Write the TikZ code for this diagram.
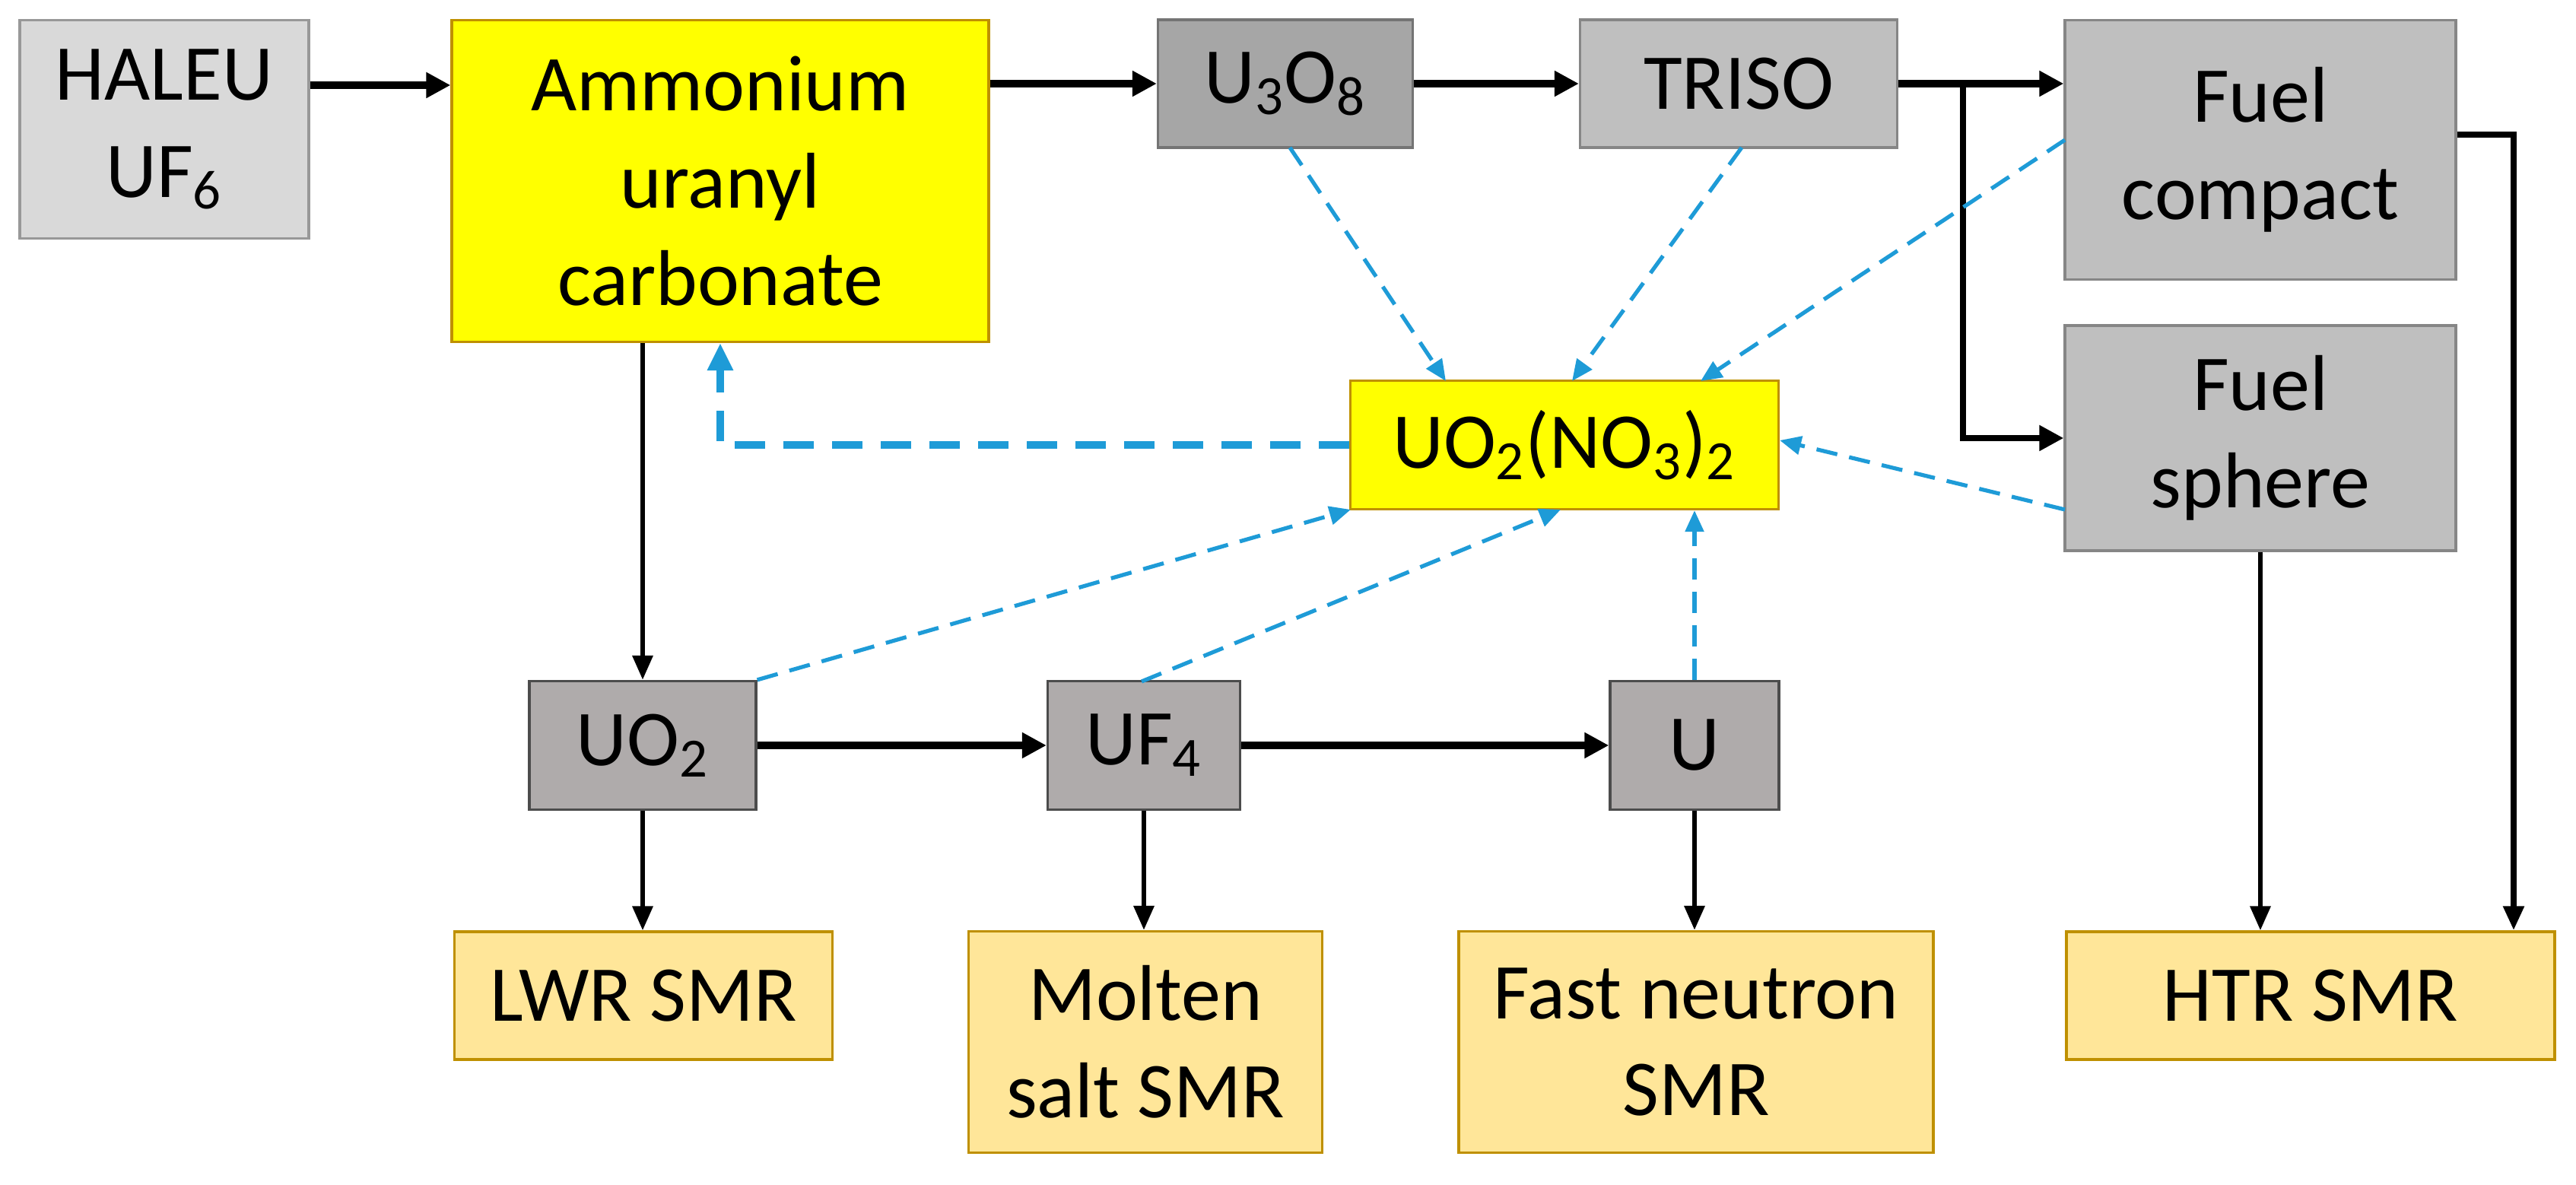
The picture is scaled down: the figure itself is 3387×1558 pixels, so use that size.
\documentclass[tikz,border=0pt]{standalone}
\usepackage{fontspec}
\setmainfont{Carlito}
\usetikzlibrary{arrows.meta}
\definecolor{lg}{HTML}{D9D9D9}
\definecolor{mg}{HTML}{BFBFBF}
\definecolor{dg}{HTML}{A6A6A6}
\definecolor{tg}{HTML}{AFABAB}
\definecolor{yl}{HTML}{FFFF00}
\definecolor{ob}{HTML}{FFE699}
\definecolor{obd}{HTML}{BF9000}
\definecolor{bl}{HTML}{1E9BD7}
\begin{document}
\begin{tikzpicture}[x=0.25pt,y=-0.25pt,
  box/.style={draw=#1!70!black,line width=0.8pt,inner sep=0pt,align=center,font=\fontsize{26}{32}\selectfont},
  bk/.style={-{Triangle[length=8pt,width=8pt]},line width=2.6pt},
  bkt/.style={-{Triangle[length=8pt,width=6.5pt]},line width=1.6pt},
  bd/.style={-{Triangle[length=7pt,width=6pt]},line width=1.3pt,bl,dash pattern=on 7pt off 4pt},
]
\fill[white] (0,0) rectangle (3387,1558);
\node[box=lg,fill=lg,minimum width=95pt,minimum height=71.75pt] (hal) at (216,170) {HALEU\\UF\textsubscript{6}};
\node[box=yl,draw=obd,fill=yl,minimum width=176.5pt,minimum height=105.75pt] (auc) at (947,238) {Ammonium\\uranyl\\carbonate};
\node[box=dg,fill=dg,minimum width=83.75pt,minimum height=42pt] (u38) at (1690,110) {U\textsubscript{3}O\textsubscript{8}};
\node[box=mg,fill=mg,minimum width=104.25pt,minimum height=42pt] (tri) at (2286,110) {TRISO};
\node[box=mg,fill=mg,minimum width=128.5pt,minimum height=85.25pt] (fc) at (2972,197) {Fuel\\compact};
\node[box=mg,fill=mg,minimum width=128.5pt,minimum height=74pt] (fs) at (2972,576) {Fuel\\sphere};
\node[box=yl,draw=obd,fill=yl,minimum width=140.75pt,minimum height=42.25pt] (un) at (2057,585) {UO\textsubscript{2}(NO\textsubscript{3})\textsubscript{2}};
\node[box=tg,draw=black!70,fill=tg,minimum width=74.5pt,minimum height=42.25pt] (uo2) at (845,980) {UO\textsubscript{2}};
\node[box=tg,draw=black!70,fill=tg,minimum width=63.25pt,minimum height=42.25pt] (uf4) at (1504,980) {UF\textsubscript{4}};
\node[box=tg,draw=black!70,fill=tg,minimum width=55.5pt,minimum height=42.25pt] (u) at (2228,980) {U};
\node[box=ob,draw=obd,fill=ob,minimum width=124.25pt,minimum height=42pt] (lwr) at (846,1309) {LWR SMR};
\node[box=ob,draw=obd,fill=ob,minimum width=116.25pt,minimum height=72.75pt] (msr) at (1506,1370) {Molten\\salt SMR};
\node[box=ob,draw=obd,fill=ob,minimum width=156pt,minimum height=72.75pt] (fnr) at (2230,1370) {Fast neutron\\SMR};
\node[box=ob,draw=obd,fill=ob,minimum width=160.5pt,minimum height=42pt] (htr) at (3038,1309) {HTR SMR};
% black flow
\draw[bk] (hal.east |- 0,112) -- (auc.west |- 0,112);
\draw[bk] (auc.east |- u38.west) -- (u38.west);
\draw[bk] (u38) -- (tri);
\draw[bk] (tri.east) -- (fc.west |- tri.east);
\coordinate (br) at (2581,110);
\draw[bk,line width=2pt] (br) -- (br |- fs.west) -- (fs.west);
\coordinate (fcr) at (3305,177);
\draw[bkt,line width=2pt] (fc.east |- fcr) -- (fcr) -- (fcr |- htr.north);
\draw[bkt] (fs.south) -- (fs.south |- htr.north);
\draw[bkt] (auc.south -| uo2.north) -- (uo2.north);
\draw[bk] (uo2) -- (uf4);
\draw[bk] (uf4) -- (u);
\draw[bkt] (uo2.south) -- (uo2.south |- lwr.north);
\draw[bkt] (uf4.south) -- (uf4.south |- msr.north);
\draw[bkt] (u.south) -- (u.south |- fnr.north);
% blue dashed
\draw[bd] (1696,194) -- (1901,501);
\draw[bd] (2290,194) -- (2067,501);
\draw[bd] (2715,184) -- (2236,501);
\draw[bd] (2715,670) -- (un.east |- 0,579);
\draw[bd] (uo2.north east) -- (1776,670);
\draw[bd] (1501,896) -- (2052,670);
\draw[bd] (u.north) -- (un.south -| u.north);
\draw[bd,line width=2.4pt,dash pattern=on 10pt off 6pt,-{Triangle[length=9pt,width=8pt]}] (un.west) -- (un.west -| auc.south) -- (auc.south);
\end{tikzpicture}
\end{document}
